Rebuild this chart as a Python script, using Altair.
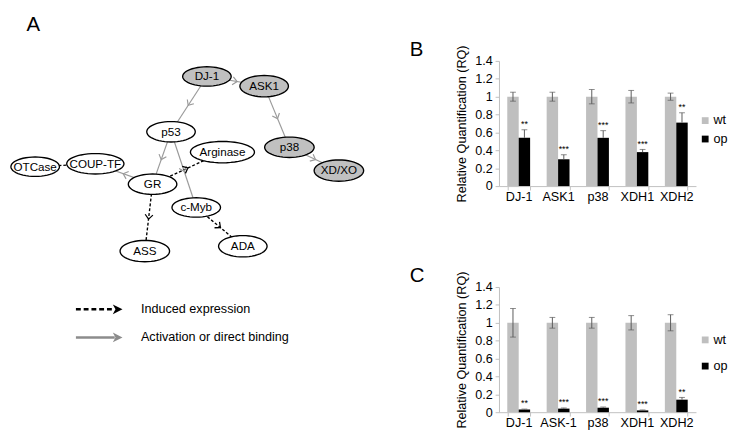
import math
import altair as alt
import pandas as pd

FONT = "Liberation Sans"

# ---------------- Panel A : network ----------------
node_names = ["DJ-1", "ASK1", "p53", "Arginase", "p38", "XD/XO",
              "OTCase", "COUP-TF", "GR", "c-Myb", "ASS", "ADA"]
node_x = [205, 264, 168, 221, 290, 341, 28, 90, 149, 194, 141, 242]
node_y = [72, 82, 129, 150, 145, 169, 165, 162, 183, 207, 252, 247]
node_w = [50, 50, 50, 66, 51, 51, 50, 59, 50, 50, 51, 50]
node_h = [20, 22, 21, 22, 21, 22, 20, 21, 21, 20, 22, 22]
node_fill = ["#c0c0c0", "#c0c0c0", "white", "white", "#c0c0c0", "#c0c0c0",
             "white", "white", "white", "white", "white", "white"]

edge_src = ["DJ-1", "DJ-1", "ASK1", "p38", "p53", "p53", "GR",
            "GR", "GR", "c-Myb", "COUP-TF"]
edge_dst = ["ASK1", "p53", "p38", "XD/XO", "GR", "c-Myb", "COUP-TF",
            "Arginase", "ASS", "ADA", "OTCase"]
edge_kind = ["activation"] * 7 + ["induced"] * 4
edge_head = [1, 1, 1, 1, 1, 1, 1, 1, 1, 1, 0]

legend_text = ["Induced expression", "Activation or direct binding"]
legend_kind = ["induced", "activation"]
legend_y = [312, 341]
legend_x0 = [70, 70]
legend_x1 = [110, 110]
legend_head_x = [113, 113]
legend_text_x = [137, 137]

panel_a_label = ["A"]
panel_a_x = [26]
panel_a_y = [8]

# ---------------- Panels B and C : qPCR ----------------
cats_b = ["DJ-1", "ASK1", "p38", "XDH1", "XDH2"]
wt_b = [1.0, 1.0, 1.0, 1.0, 1.0]
wt_err_b = [0.05, 0.05, 0.08, 0.07, 0.04]
op_b = [0.54, 0.30, 0.54, 0.38, 0.71]
op_err_b = [0.09, 0.05, 0.08, 0.03, 0.11]
stars_b = ["**", "***", "***", "***", "**"]

cats_c = ["DJ-1", "ASK-1", "p38", "XDH1", "XDH2"]
wt_c = [1.0, 1.0, 1.0, 1.0, 1.0]
wt_err_c = [0.16, 0.06, 0.06, 0.08, 0.09]
op_c = [0.03, 0.04, 0.05, 0.02, 0.14]
op_err_c = [0.005, 0.008, 0.008, 0.005, 0.025]
stars_c = ["**", "***", "***", "***", "**"]

series_names = ["wt", "op"]
series_colors = ["#bfbfbf", "#000000"]
y_ticks = [0, 0.2, 0.4, 0.6, 0.8, 1.0, 1.2, 1.4]


# ---------- build panel A ----------
def ellipse_path(k, n=48):
    pts = []
    for i in range(n):
        t = 2 * math.pi * i / n
        pts.append(f"{math.cos(t):.4f},{k * math.sin(t):.4f}")
    return "M" + "L".join(pts) + "Z"


idx = {n: i for i, n in enumerate(node_names)}
nodes = pd.DataFrame({
    "name": node_names, "x": node_x, "y": node_y,
    "sz": [w * w for w in node_w], "fill": node_fill,
})
shape_paths = [ellipse_path(h / w) for w, h in zip(node_w, node_h)]

erows, hrows = [], []
for s, d, k, hd in zip(edge_src, edge_dst, edge_kind, edge_head):
    i, j = idx[s], idx[d]
    x1, y1, x2, y2 = node_x[i], node_y[i], node_x[j], node_y[j]
    dx, dy = x2 - x1, y2 - y1
    erows.append(dict(x=x1, y=y1, x2=x2, y2=y2, kind=k))
    if hd:
        a1, b1 = node_w[i] / 2, node_h[i] / 2
        a2, b2 = node_w[j] / 2, node_h[j] / 2
        ts = 1 / math.sqrt((dx / a1) ** 2 + (dy / b1) ** 2)
        td = 1 - 1 / math.sqrt((dx / a2) ** 2 + (dy / b2) ** 2)
        t = (ts + td) / 2
        ang = math.degrees(math.atan2(dx, -dy)) % 360
        hrows.append(dict(x=x1 + t * dx, y=y1 + t * dy, ang=ang, kind=k))
edges = pd.DataFrame(erows)
heads = pd.DataFrame(hrows)

leg = pd.DataFrame({
    "text": legend_text, "kind": legend_kind, "y": legend_y,
    "x0": legend_x0, "x1": legend_x1, "hx": legend_head_x, "tx": legend_text_x,
})
lab_a = pd.DataFrame({"t": panel_a_label, "x": panel_a_x, "y": panel_a_y})

A_W, A_H = 372, 424
xsA = alt.Scale(domain=[8, 8 + A_W], nice=False, zero=False)
ysA = alt.Scale(domain=[8, 8 + A_H], nice=False, zero=False, reverse=True)


def AX(f):
    return alt.X(f, type="quantitative", scale=xsA, axis=None)


def AY(f):
    return alt.Y(f, type="quantitative", scale=ysA, axis=None)


GRAY_EDGE = "#9a9a9a"
CHEV = "M-1,0.7L0,-0.45L1,0.7"
ARROW = "M-1,-1L1,0L-1,1L-0.45,0Z"

solid_edges = alt.Chart(edges).transform_filter("datum.kind == 'activation'").mark_rule(
    color=GRAY_EDGE, strokeWidth=1.2).encode(x=AX("x"), y=AY("y"), x2="x2:Q", y2="y2:Q")
dash_edges = alt.Chart(edges).transform_filter("datum.kind == 'induced'").mark_rule(
    color="black", strokeWidth=1.4, strokeDash=[3, 2]).encode(x=AX("x"), y=AY("y"), x2="x2:Q", y2="y2:Q")
solid_heads = alt.Chart(heads).transform_filter("datum.kind == 'activation'").mark_point(
    shape=CHEV, filled=False, color=GRAY_EDGE, size=64, strokeWidth=1.2, opacity=1).encode(
    x=AX("x"), y=AY("y"), angle=alt.Angle("ang:Q", scale=None))
dash_heads = alt.Chart(heads).transform_filter("datum.kind == 'induced'").mark_point(
    shape=CHEV, filled=False, color="black", size=64, strokeWidth=1.3, opacity=1).encode(
    x=AX("x"), y=AY("y"), angle=alt.Angle("ang:Q", scale=None))
node_marks = alt.Chart(nodes).mark_point(
    filled=True, stroke="black", strokeWidth=1.4, opacity=1, fillOpacity=1, strokeOpacity=1).encode(
    x=AX("x"), y=AY("y"),
    shape=alt.Shape("name:N", scale=alt.Scale(domain=node_names, range=shape_paths), legend=None),
    size=alt.Size("sz:Q", scale=None),
    fill=alt.Fill("fill:N", scale=None))
node_text = alt.Chart(nodes).mark_text(fontSize=12, font=FONT, color="black").encode(
    x=AX("x"), y=AY("y"), text="name:N")

leg_dash = alt.Chart(leg).transform_filter("datum.kind == 'induced'").mark_rule(
    color="black", strokeWidth=2.5, strokeDash=[5, 3]).encode(x=AX("x0"), x2="x1:Q", y=AY("y"))
leg_solid = alt.Chart(leg).transform_filter("datum.kind == 'activation'").mark_rule(
    color="#8c8c8c", strokeWidth=2.5).encode(x=AX("x0"), x2="x1:Q", y=AY("y"))
leg_head_d = alt.Chart(leg).transform_filter("datum.kind == 'induced'").mark_point(
    shape=ARROW, filled=True, color="black", size=100, opacity=1).encode(x=AX("hx"), y=AY("y"))
leg_head_s = alt.Chart(leg).transform_filter("datum.kind == 'activation'").mark_point(
    shape=ARROW, filled=True, color="#8c8c8c", size=100, opacity=1).encode(x=AX("hx"), y=AY("y"))
leg_text = alt.Chart(leg).mark_text(fontSize=13, font=FONT, color="black", align="left").encode(
    x=AX("tx"), y=AY("y"), text="text:N")
a_letter = alt.Chart(lab_a).mark_text(fontSize=21, font=FONT, color="black", baseline="top").encode(
    x=AX("x"), y=AY("y"), text="t:N")

panel_a = alt.layer(solid_edges, dash_edges, solid_heads, dash_heads, node_marks, node_text,
                    leg_dash, leg_solid, leg_head_d, leg_head_s, leg_text, a_letter
                    ).properties(width=A_W, height=A_H)


# ---------- bar panels ----------
def bar_panel(cats, wt_vals, wt_err, op_vals, op_err, stars, letter,
              leg_x, leg_y, row_pad, height):
    rows = []
    for i, c in enumerate(cats):
        rows.append(dict(cat=c, series="wt", value=wt_vals[i],
                         lo=wt_vals[i] - wt_err[i], hi=wt_vals[i] + wt_err[i], star=""))
        rows.append(dict(cat=c, series="op", value=op_vals[i],
                         lo=op_vals[i], hi=op_vals[i] + op_err[i], star=stars[i]))
    df = pd.DataFrame(rows)

    x = alt.X("cat:N", sort=cats,
              scale=alt.Scale(paddingInner=0.42, paddingOuter=0.21),
              axis=alt.Axis(title=None, labelAngle=0, tickBand="extent",
                            domainColor="#bfbfbf", tickColor="#bfbfbf", tickSize=4,
                            labelFontSize=13, labelPadding=1, labelColor="black",
                            grid=False))
    xo = alt.XOffset("series:N", sort=series_names,
                     scale=alt.Scale(domain=series_names, paddingInner=0, paddingOuter=0))
    ys = alt.Scale(domain=[0, 1.4], nice=False, zero=True)
    yax = alt.Axis(values=y_ticks, format="~g", grid=False, domainColor="#bfbfbf",
                   tickColor="#bfbfbf", tickSize=4, labelFontSize=13, labelPadding=3,
                   labelColor="black", title="Relative Quantification (RQ)",
                   titleFontSize=13, titleFontWeight="normal", titlePadding=6,
                   titleColor="black")

    def Y(f):
        return alt.Y(f, type="quantitative", scale=ys, axis=yax)

    color = alt.Color("series:N",
                      scale=alt.Scale(domain=series_names, range=series_colors),
                      legend=alt.Legend(orient="none", legendX=leg_x, legendY=leg_y,
                                        title=None, symbolType="square", symbolSize=49,
                                        symbolStrokeWidth=0, labelFontSize=13,
                                        labelColor="black", rowPadding=row_pad,
                                        padding=0, labelOffset=2))
    base = alt.Chart(df)
    bars = base.mark_bar().encode(x=x, xOffset=xo, y=Y("value"), color=color)
    err = base.mark_rule(color="#595959", strokeWidth=1).encode(
        x=x, xOffset=xo, y=Y("lo"), y2="hi:Q")
    cap_hi = base.mark_tick(color="#595959", size=6, thickness=1).encode(
        x=x, xOffset=xo, y=Y("hi"))
    cap_lo = base.transform_filter("datum.series == 'wt'").mark_tick(
        color="#595959", size=6, thickness=1).encode(x=x, xOffset=xo, y=Y("lo"))
    star = base.mark_text(fontSize=9, font=FONT, baseline="alphabetic", dy=-3,
                          color="black").encode(x=x, xOffset=xo, y=Y("hi"), text="star:N")
    return alt.layer(bars, err, cap_hi, cap_lo, star).properties(
        width=203, height=height,
        title=alt.TitleParams(letter, anchor="start", frame="bounds", fontSize=21,
                              fontWeight="normal", font=FONT, dx=-48, offset=-15,
                              color="black"))


panel_b = bar_panel(cats_b, wt_b, wt_err_b, op_b, op_err_b, stars_b, "B",
                    206, 55, 5, 129)
panel_c = bar_panel(cats_c, wt_c, wt_err_c, op_c, op_err_c, stars_c, "C",
                    206, 48, 13, 129)

spacer = alt.Chart(pd.DataFrame({"v": [0]})).mark_point(opacity=0).encode(
    x=alt.X("v:Q", axis=None), y=alt.Y("v:Q", axis=None)).properties(width=1, height=25)

inner = alt.vconcat(panel_b, panel_c, spacing=63).resolve_scale(color="independent")
right = alt.vconcat(spacer, inner, spacing=0).resolve_scale(color="independent")

chart = alt.hconcat(panel_a, right, spacing=33).resolve_scale(color="independent").properties(
    padding=0
).configure(font=FONT).configure_view(stroke=None)

chart.save("out.html", embed_options={"renderer": "svg", "actions": False})
